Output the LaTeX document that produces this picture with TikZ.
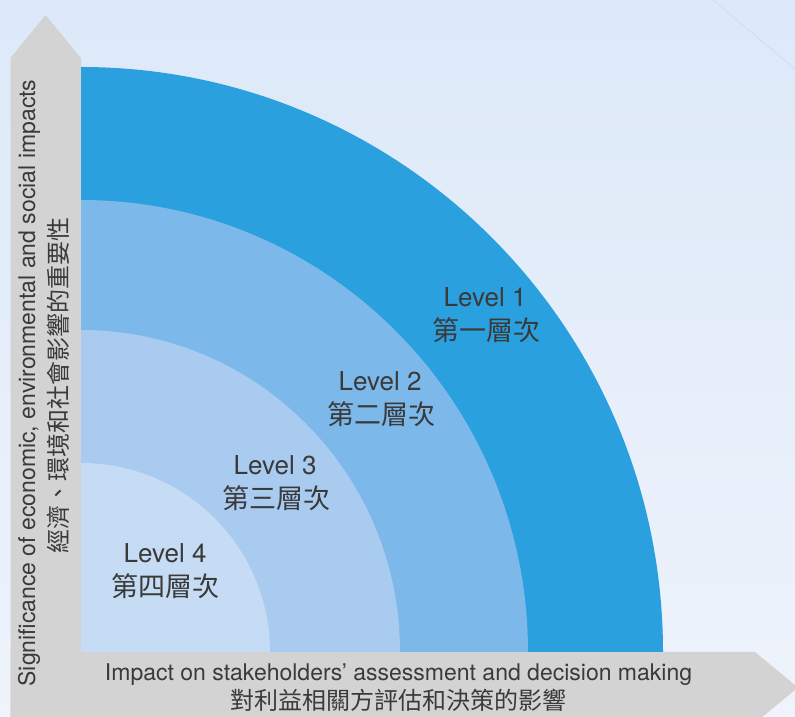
\documentclass[tikz,border=0pt]{standalone}
\usepackage{fontspec}
\setmainfont{TeX Gyre Heros}
\newfontfamily\cjk{Noto Sans CJK TC}
\definecolor{bgA}{HTML}{F1F5FC}
\definecolor{bgB}{HTML}{DAE7F8}
\definecolor{axisgray}{HTML}{D3D3D4}
\definecolor{lvA}{HTML}{2AA0DE}
\definecolor{lvB}{HTML}{7DB8EA}
\definecolor{lvC}{HTML}{A9CBEF}
\definecolor{lvD}{HTML}{C6DCF4}
\definecolor{txt}{HTML}{3A3A3A}
\definecolor{faint}{HTML}{CFE0F3}
\begin{document}
\begin{tikzpicture}[x=1pt,y=1pt,
  lvlen/.style={text=txt,font=\fontsize{26}{30}\selectfont,inner sep=0pt},
  lvlzh/.style={text=txt,font=\fontsize{27}{31}\cjk,inner sep=0pt},
  axen/.style={text=txt,font=\fontsize{23}{27}\selectfont,inner sep=0pt},
  axzh/.style={text=txt,font=\fontsize{24}{28}\cjk,inner sep=0pt}]
\useasboundingbox (0,0) rectangle (795,717);
\clip (0,0) rectangle (795,717);
% background
\shade[shading=axis,shading angle=135,top color=bgB,bottom color=bgA] (-100,-100) rectangle (895,817);
\draw[faint,line width=1pt] (713,717) -- (795,648);
% axes arrows
\fill[axisgray] (10.5,-10) -- (10.5,659) -- (45.5,702) -- (81,659) -- (81,-10) -- cycle;
\fill[axisgray] (10.5,65) -- (755,65) -- (798,29.5) -- (755,-6) -- (10.5,-6) -- cycle;
% level sectors
\coordinate (o) at (81,65);
\fill[lvA] (o) -- ++(582,0) arc[start angle=0,end angle=90,x radius=582,y radius=585] -- cycle;
\fill[lvB] (o) -- ++(447,0) arc[start angle=0,end angle=90,x radius=447,y radius=452] -- cycle;
\fill[lvC] (o) -- ++(319,0) arc[start angle=0,end angle=90,x radius=319,y radius=322] -- cycle;
\fill[lvD] (o) -- ++(189,0) arc[start angle=0,end angle=90,x radius=189,y radius=189] -- cycle;
% labels
\node[lvlen] (l1) at (485,420) {Level 1};
\node[lvlzh] (z1) at (486,387) {第一層次};
\node[lvlen] (l2) at (380,336) {Level 2};
\node[lvlzh] (z2) at (381,303) {第二層次};
\node[lvlen] (l3) at (275,252) {Level 3};
\node[lvlzh] (z3) at (276,219) {第三層次};
\node[lvlen] (l4) at (165,164) {Level 4};
\node[lvlzh] (z4) at (165,131) {第四層次};
% axis texts
\node[axen,rotate=90] (ye) at (29,334) {Significance of economic, environmental and social impacts};
\node[axzh,rotate=90] (yz) at (58,331) {經濟、環境和社會影響的重要性};
\node[axen] (xe) at (398.5,42) {Impact on stakeholders’ assessment and decision making};
\node[axzh] (xz) at (398,17) {對利益相關方評估和決策的影響};
\end{tikzpicture}
\end{document}
